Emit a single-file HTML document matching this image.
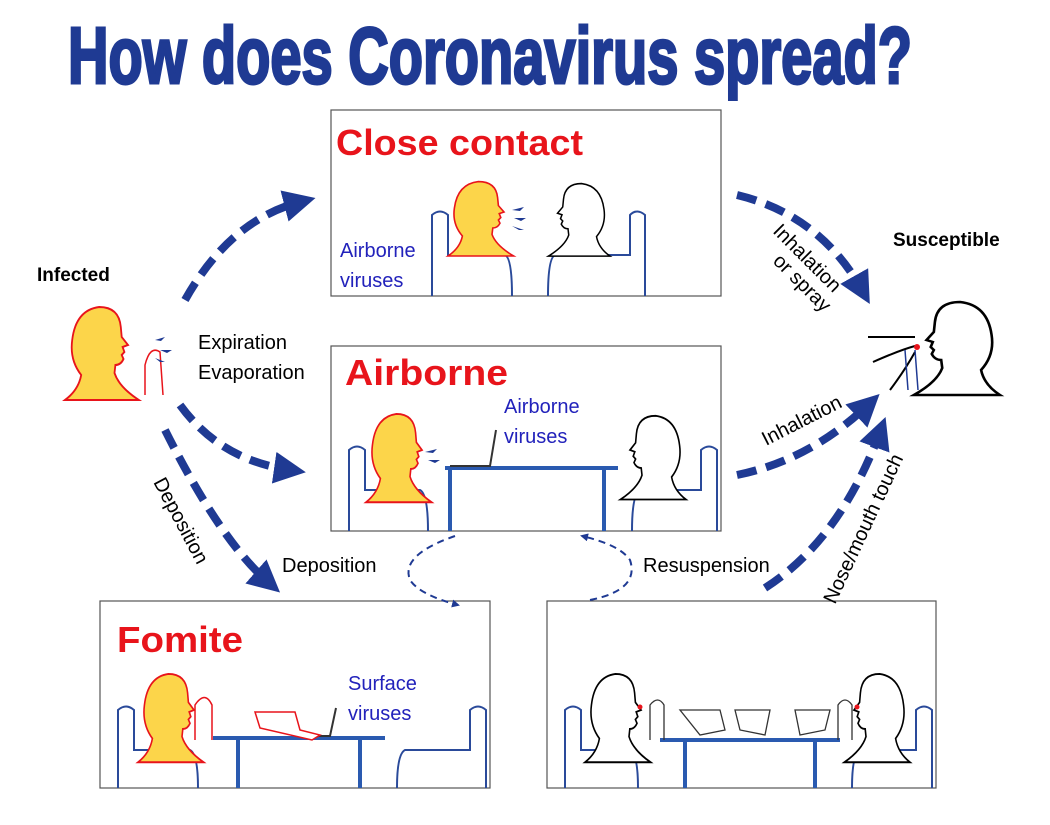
<!DOCTYPE html>
<html><head><meta charset="utf-8"><style>
html,body{margin:0;padding:0;background:#fff;width:1050px;height:825px;overflow:hidden}
svg{display:block}
text{font-family:"Liberation Sans",Arial,sans-serif}
</style></head><body>
<svg width="1050" height="825" viewBox="0 0 1050 825" xmlns="http://www.w3.org/2000/svg">
<defs>
<path id="hd" d="M0,95 Q15,85 18,70 Q5,55 8,35 Q12,5 38,2 Q60,2 62,22 L63,32 L70,40 L64,42 L66,47 L63,50 L65,54 Q62,60 56,60 L55,68 Q60,82 82,95 Z"/>
<marker id="ah" markerWidth="4" markerHeight="4" refX="2" refY="2" orient="auto" markerUnits="strokeWidth"><path d="M0,0 L4,2 L0,4 Z" fill="#1f3a93"/></marker>
<marker id="ah2" markerWidth="8" markerHeight="8" refX="6" refY="4" orient="auto" markerUnits="userSpaceOnUse"><path d="M0,0 L8,4 L0,8 Z" fill="#1f3a93"/></marker>
</defs>
<text x="68" y="83" font-size="80" font-weight="bold" fill="#1f3a93" stroke="#1f3a93" stroke-width="3" textLength="844" lengthAdjust="spacingAndGlyphs">How does Coronavirus spread?</text>

<g fill="none" stroke="#555" stroke-width="1.2">
<rect x="331" y="110" width="390" height="186"/>
<rect x="331" y="346" width="390" height="185"/>
<rect x="100" y="601" width="390" height="187"/>
<rect x="547" y="601" width="389" height="187"/>
</g>

<g font-weight="bold" fill="#e8141b">
<text x="336" y="155" font-size="36" textLength="247" lengthAdjust="spacingAndGlyphs">Close contact</text>
<text x="345" y="385" font-size="36" textLength="163" lengthAdjust="spacingAndGlyphs">Airborne</text>
<text x="117" y="652" font-size="36" textLength="126" lengthAdjust="spacingAndGlyphs">Fomite</text>
</g>
<g fill="#2222bb" font-size="20">
<text x="340" y="257">Airborne</text><text x="340" y="287">viruses</text>
<text x="504" y="413">Airborne</text><text x="504" y="443">viruses</text>
<text x="348" y="690">Surface</text><text x="348" y="720">viruses</text>
</g>
<g fill="#000" font-size="20">
<text x="37" y="281" font-weight="bold" font-size="19">Infected</text>
<text x="893" y="246" font-weight="bold" font-size="19">Susceptible</text>
<text x="198" y="349">Expiration</text>
<text x="198" y="379">Evaporation</text>
<text x="282" y="572">Deposition</text>
<text x="643" y="572">Resuspension</text>
<text transform="translate(153,482) rotate(62)">Deposition</text>
<text transform="translate(772,232) rotate(45)">Inhalation</text>
<text transform="translate(772,262) rotate(45)">or spray</text>
<text transform="translate(766,446) rotate(-27)">Inhalation</text>
<text transform="translate(835,605) rotate(-65)">Nose/mouth touch</text>
</g>

<g fill="none" stroke="#1f3a93" stroke-width="8" stroke-dasharray="20,10" marker-end="url(#ah)">
<path d="M185,300 Q230,220 300,202"/>
<path d="M180,405 Q220,460 290,470"/>
<path d="M165,430 Q220,540 268,582"/>
<path d="M737,195 Q820,215 862,290"/>
<path d="M737,475 Q810,460 868,405"/>
<path d="M765,588 Q840,540 880,432"/>
</g>
<g fill="none" stroke="#1f3a93" stroke-width="2" stroke-dasharray="7,5" marker-end="url(#ah2)">
<path d="M455,536 Q400,555 410,580 Q420,595 458,605"/>
<path d="M590,600 Q640,590 630,560 Q620,545 582,536"/>
</g>

<use href="#hd" transform="translate(65,305) scale(0.9,1)" fill="#fcd54a" stroke="#e8141b" stroke-width="2"/>
<path d="M145,395 L145,365 Q150,345 160,352 L163,395" fill="none" stroke="#e8141b" stroke-width="1.5"/>
<g fill="#1f3a93"><path d="M155,340 l10,-3 l-4,4z"/><path d="M160,350 l12,0 l-5,3z"/><path d="M155,358 l10,4 l-5,0z"/></g>

<use href="#hd" transform="translate(1000,300) scale(-1.05,1)" fill="#fff" stroke="#000" stroke-width="2.5"/>
<path d="M868,337 L915,337 M873,362 Q900,350 915,346 M890,390 Q905,370 915,352" fill="none" stroke="#000" stroke-width="2"/>
<path d="M905,350 L908,390 M915,350 L918,390" fill="none" stroke="#1f3a93" stroke-width="1.5"/>
<circle cx="917" cy="347" r="3" fill="#e8141b"/>

<g fill="none" stroke="#2a4a9a" stroke-width="2">
<path d="M432,296 L432,215 Q440,208 448,215 L448,255 L505,255 Q512,258 512,296"/>
<path d="M645,296 L645,215 Q637,208 630,215 L630,255 L555,255 Q548,258 548,296"/>
</g>
<use href="#hd" transform="translate(448,180) scale(0.8,0.8)" fill="#fcd54a" stroke="#e8141b" stroke-width="2"/>
<use href="#hd" transform="translate(610,182) scale(-0.75,0.78)" fill="#fff" stroke="#000" stroke-width="2"/>
<g fill="#1f3a93"><path d="M512,210 l12,-3 l-4,4z"/><path d="M514,218 l12,0 l-5,3z"/><path d="M512,226 l12,4 l-5,0z"/></g>

<g fill="none" stroke="#2a4a9a" stroke-width="2">
<path d="M349,531 L349,450 Q357,443 365,450 L365,490 L420,490 Q428,494 428,531"/>
<path d="M717,531 L717,450 Q709,443 701,450 L701,490 L640,490 Q632,494 632,531"/>
</g>
<path d="M445,468 L618,468 M450,468 L450,531 M604,468 L604,531" stroke="#2a5ab0" stroke-width="4" fill="none"/>
<path d="M450,466 L490,466 L496,430" stroke="#333" stroke-width="2" fill="none"/>
<use href="#hd" transform="translate(366,412) scale(0.8,0.95)" fill="#fcd54a" stroke="#e8141b" stroke-width="2"/>
<use href="#hd" transform="translate(686,414) scale(-0.8,0.9)" fill="#fff" stroke="#000" stroke-width="2"/>
<g fill="#1f3a93"><path d="M425,452 l12,-3 l-4,4z"/><path d="M428,460 l12,0 l-5,3z"/></g>

<g fill="none" stroke="#2a4a9a" stroke-width="2">
<path d="M118,788 L118,710 Q126,703 134,710 L134,750 L190,750 Q198,754 198,788"/>
<path d="M486,788 L486,710 Q478,703 470,710 L470,750 L405,750 Q397,754 397,788"/>
</g>
<path d="M213,738 L385,738 M238,738 L238,788 M360,738 L360,788" stroke="#2a5ab0" stroke-width="4" fill="none"/>
<path d="M295,736 L330,736 L336,708" stroke="#333" stroke-width="2" fill="none"/>
<path d="M255,712 L295,712 L300,730 L320,735 L312,740 L260,728 Z" fill="#fff" stroke="#e8141b" stroke-width="1.5"/>
<use href="#hd" transform="translate(138,672) scale(0.8,0.95)" fill="#fcd54a" stroke="#e8141b" stroke-width="2"/>
<path d="M195,740 L195,705 Q205,690 212,705 L212,740" fill="none" stroke="#e8141b" stroke-width="1.5"/>

<g fill="none" stroke="#2a4a9a" stroke-width="2">
<path d="M565,788 L565,710 Q573,703 581,710 L581,750 L630,750 Q638,754 638,788"/>
<path d="M932,788 L932,710 Q924,703 916,710 L916,750 L860,750 Q852,754 852,788"/>
</g>
<path d="M660,740 L840,740 M685,740 L685,788 M815,740 L815,788" stroke="#2a5ab0" stroke-width="4" fill="none"/>
<use href="#hd" transform="translate(585,672) scale(0.8,0.95)" fill="#fff" stroke="#000" stroke-width="2"/>
<use href="#hd" transform="translate(910,672) scale(-0.8,0.95)" fill="#fff" stroke="#000" stroke-width="2"/>
<g fill="none" stroke="#333" stroke-width="1.3">
<path d="M680,710 L720,710 L725,730 L700,735 Z"/>
<path d="M735,710 L770,710 L765,735 L740,730 Z"/>
<path d="M795,710 L830,710 L825,730 L800,735 Z"/>
<path d="M650,740 L650,705 Q658,695 664,705 L664,740"/>
<path d="M852,740 L852,705 Q845,695 838,705 L838,740"/>
</g>
<circle cx="640" cy="707" r="2.5" fill="#e8141b"/><circle cx="857" cy="707" r="2.5" fill="#e8141b"/>
</svg>
</body></html>
